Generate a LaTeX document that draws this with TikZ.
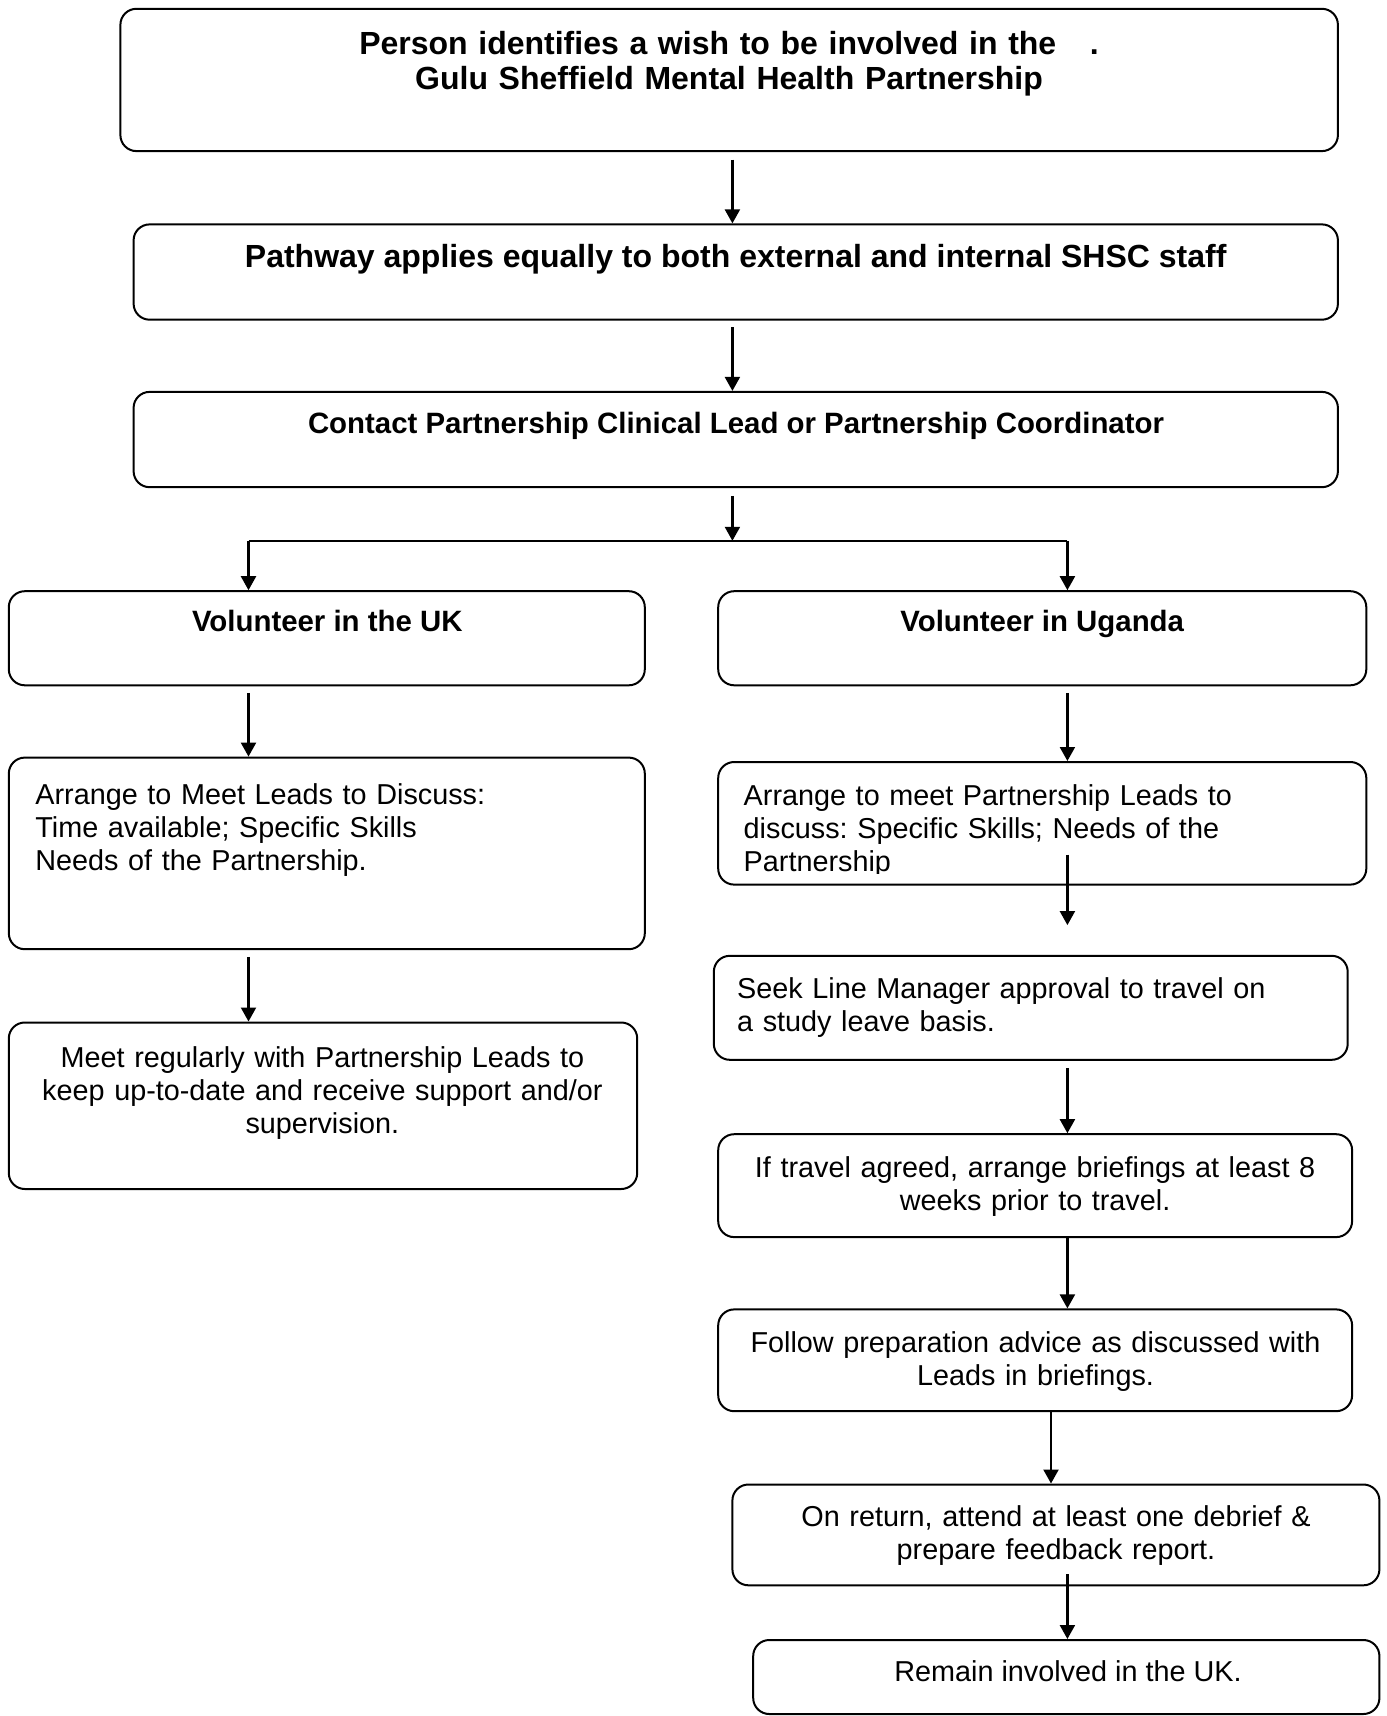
\documentclass[tikz,border=0pt]{standalone}
\usepackage{fontspec}
\setmainfont{Liberation Sans}
\frenchspacing
\usetikzlibrary{arrows.meta,fit}
\begin{document}
\begin{tikzpicture}[x=0.5pt,y=-0.5pt,
  box/.style={draw, line width=1pt, rounded corners=8pt, inner sep=0pt},
  conn/.style={line width=1.1pt},
  arr/.style={line width=1.1pt, -{Triangle[length=7pt,width=7.5pt]}},
  reg/.style={font=\fontsize{14.4}{16.7}\selectfont, inner sep=0pt},
  bsm/.style={font=\bfseries\fontsize{14.7}{16.7}\selectfont, inner sep=0pt, anchor=base},
  blg/.style={font=\bfseries\fontsize{16}{17.5}\selectfont, inner sep=0pt},
]
\useasboundingbox (0,0) rectangle (1386,1716);

% boxes
\node[box, fit={(120.4,8.8) (1337.9,151.1)}] (top) {};
\node[box, fit={(133.6,224.4) (1337.9,319.7)}] (path) {};
\node[box, fit={(133.6,391.9) (1337.9,487.2)}] (contact) {};
\node[box, fit={(8.8,591.2) (644.8,685.3)}] (ukv) {};
\node[box, fit={(718.2,591.2) (1366.3,685.3)}] (ugv) {};
\node[box, fit={(8.8,757.6) (644.8,949.2)}] (ukarr) {};
\node[box, fit={(8.8,1022.5) (637.2,1189)}] (meet) {};
\node[box, fit={(718.2,762) (1366.3,884.6)}] (ugarr) {};
\node[box, fit={(713.8,955.8) (1347.7,1059.8)}] (seek) {};
\node[box, fit={(718.2,1134.2) (1352.1,1237.1)}] (iftr) {};
\node[box, fit={(718.2,1309.4) (1352.1,1411.2)}] (follow) {};
\node[box, fit={(732.4,1484.5) (1379.4,1585.3)}] (ret) {};
\node[box, fit={(753.2,1640) (1379.4,1714)}] (remain) {};

% texts
\node[blg, anchor=base, text width=560pt, align=center] (ttop) at (729,55)
  {Person identifies a wish to be involved in the\hspace{1.05em}.\\Gulu Sheffield Mental Health Partnership};
\node[blg, anchor=base] (tpath) at (735.7,268) {Pathway applies equally to both external and internal SHSC staff};
\node[bsm] (tcontact) at (736,434) {Contact Partnership Clinical Lead or Partnership Coordinator};
\node[bsm] (tukv) at (327.3,631) {Volunteer in the UK};
\node[bsm] (tugv) at (1042.2,631) {Volunteer in Uganda};
\node[reg, anchor=base west, text width=290pt, align=left] (tukarr) at (35,804)
  {Arrange to Meet Leads to Discuss:\\Time available; Specific Skills\\Needs of the Partnership.};
\node[reg, anchor=base, text width=310pt, align=center] (tmeet) at (322.4,1067)
  {Meet regularly with Partnership Leads to\\keep up-to-date and receive support and/or\\supervision.};
\begin{scope}
  \clip (718.2,762) rectangle (1366.3,873);
  \node[reg, anchor=base west, text width=300pt, align=left] (tugarr) at (743.3,805)
    {Arrange to meet Partnership Leads to\\discuss: Specific Skills; Needs of the\\Partnership};
\end{scope}
\node[reg, anchor=base west, text width=300pt, align=left] (tseek) at (736.8,998)
  {Seek Line Manager approval to travel on\\a study leave basis.};
\node[reg, anchor=base, text width=310pt, align=center] (tif) at (1035.1,1177)
  {If travel agreed, arrange briefings at least 8\\weeks prior to travel.};
\node[reg, anchor=base, text width=310pt, align=center] (tfollow) at (1035.5,1352)
  {Follow preparation advice as discussed with\\Leads in briefings.};
\node[reg, anchor=base, text width=310pt, align=center] (tret) at (1056,1526)
  {On return, attend at least one debrief \&\\prepare feedback report.};
\node[reg, anchor=base] (tremain) at (1068,1681) {Remain involved in the UK.};

% connector coordinates
\coordinate (c0) at (732.4,0);
\coordinate (split) at (732.4,540.8);
\coordinate (L) at (248.5,540.8);
\coordinate (R) at (1067.4,540.8);
\coordinate (cf) at (1051,0);
\coordinate (gapend) at (1067.4,925.1);

% connectors
\draw[arr] (top.south -| c0) ++(0,7.6) -- (path.north -| c0);
\draw[arr] (path.south -| c0) ++(0,6.5) -- (contact.north -| c0);
\draw[arr] (contact.south -| c0) ++(0,7.6) -- (split);
\draw[conn] (L) -- (R);
\draw[arr] (L) -- (ukv.north -| L);
\draw[arr] (R) -- (ugv.north -| R);
\draw[arr] (ukv.south -| L) ++(0,6.6) -- (ukarr.north -| L);
\draw[arr] (ukarr.south -| L) ++(0,6.6) -- (meet.north -| L);
\draw[arr] (ugv.south -| R) ++(0,6.6) -- (ugarr.north -| R);
\draw[arr] (ugarr.south -| R) ++(0,-31) -- (gapend);
\draw[arr] (seek.south -| R) ++(0,7.6) -- (iftr.north -| R);
\draw[arr] (iftr.south -| R) -- (follow.north -| R);
\draw[arr] (follow.south -| cf) -- (ret.north -| cf);
\draw[arr] (ret.south -| R) ++(0,-12) -- (remain.north -| R);
\end{tikzpicture}
\end{document}
